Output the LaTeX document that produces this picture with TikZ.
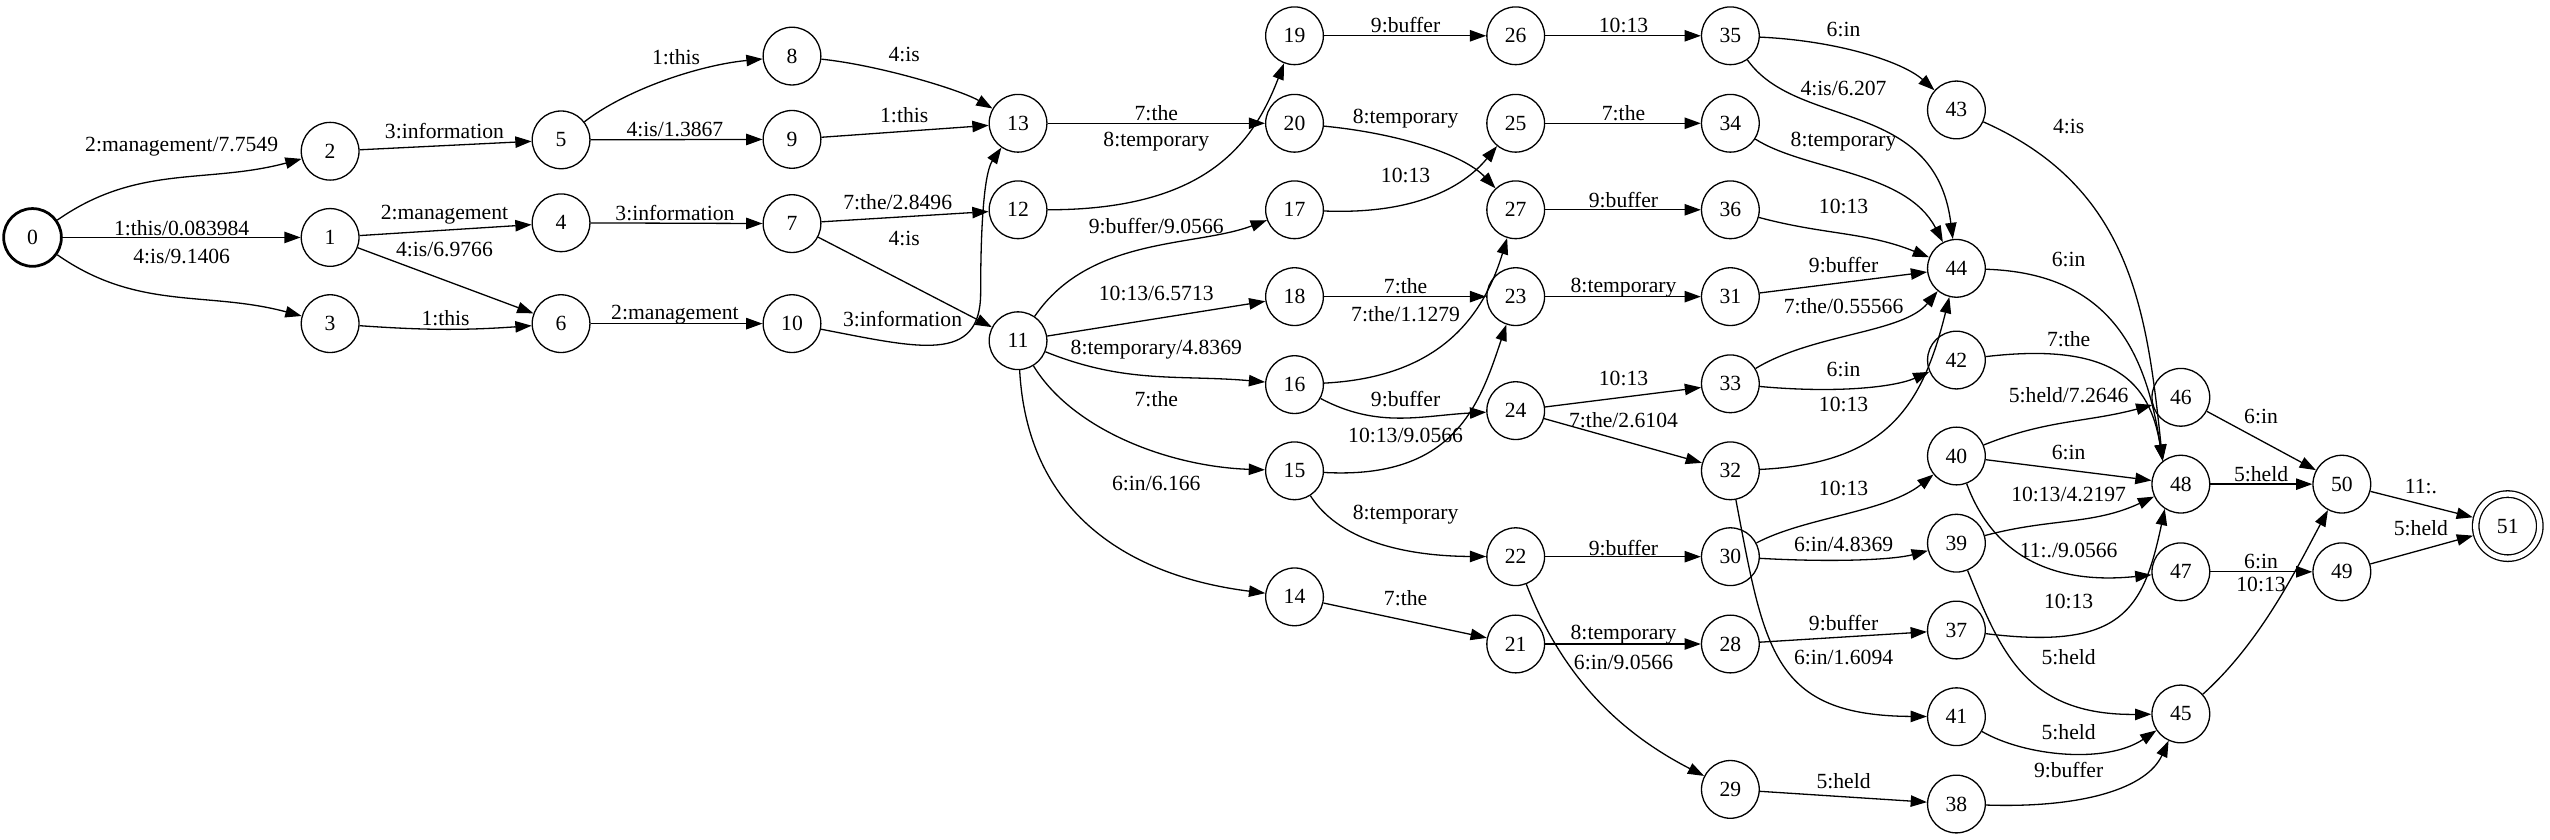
\documentclass[tikz,border=0pt]{standalone}
\usepackage{fontspec}
\setmainfont{Liberation Serif}
\usetikzlibrary{arrows.meta}
\begin{document}
\begin{tikzpicture}[x=1pt,y=1pt,
  every node/.style={font=\fontsize{13.3}{16}\selectfont},
  st/.style={circle,draw,line width=0.8pt,minimum size=35.5pt,inner sep=0pt},
  lab/.style={inner sep=0pt},
  e/.style={line width=0.8pt,-{Triangle[length=10pt,width=7pt]}}]
\useasboundingbox (0,0) rectangle (1568,-516.5);
% states
\node[st,line width=1.7pt] (n0) at (20,-146) {0};
\node[st] (n1) at (203,-146) {1};
\node[st] (n2) at (203,-93) {2};
\node[st] (n3) at (203,-199) {3};
\node[st] (n4) at (345,-137) {4};
\node[st] (n5) at (345,-86) {5};
\node[st] (n6) at (345,-199) {6};
\node[st] (n7) at (487,-137.5) {7};
\node[st] (n8) at (487,-34.5) {8};
\node[st] (n9) at (487,-85.7) {9};
\node[st] (n10) at (487,-199) {10};
\node[st] (n11) at (626,-209.5) {11};
\node[st] (n12) at (626,-129) {12};
\node[st] (n13) at (626,-75.8) {13};
\node[st] (n14) at (796,-367) {14};
\node[st] (n15) at (796,-289.5) {15};
\node[st] (n16) at (796,-236.5) {16};
\node[st] (n17) at (796,-129) {17};
\node[st] (n18) at (796,-182.4) {18};
\node[st] (n19) at (796,-22) {19};
\node[st] (n20) at (796,-75.8) {20};
\node[st] (n21) at (932,-396) {21};
\node[st] (n22) at (932,-342.3) {22};
\node[st] (n23) at (932,-182.4) {23};
\node[st] (n24) at (932,-252.5) {24};
\node[st] (n25) at (932,-75.8) {25};
\node[st] (n26) at (932,-22) {26};
\node[st] (n27) at (932,-129) {27};
\node[st] (n28) at (1064,-396) {28};
\node[st] (n29) at (1064,-485.4) {29};
\node[st] (n30) at (1064,-342.3) {30};
\node[st] (n31) at (1064,-182.4) {31};
\node[st] (n32) at (1064,-289.5) {32};
\node[st] (n33) at (1064,-236) {33};
\node[st] (n34) at (1064,-75.8) {34};
\node[st] (n35) at (1064,-22) {35};
\node[st] (n36) at (1064,-129) {36};
\node[st] (n37) at (1203,-387.4) {37};
\node[st] (n38) at (1203,-494.4) {38};
\node[st] (n39) at (1203,-334) {39};
\node[st] (n40) at (1203,-280.4) {40};
\node[st] (n41) at (1203,-440.7) {41};
\node[st] (n42) at (1203,-221.4) {42};
\node[st] (n43) at (1203,-67.6) {43};
\node[st] (n44) at (1203,-165) {44};
\node[st] (n45) at (1341,-439) {45};
\node[st] (n46) at (1341,-244.3) {46};
\node[st] (n47) at (1341,-351.6) {47};
\node[st] (n48) at (1341,-297.7) {48};
\node[st] (n49) at (1440,-351.6) {49};
\node[st] (n50) at (1440,-297.7) {50};
\node[circle,draw,line width=0.8pt,double,double distance=3.2pt,minimum size=39.4pt,inner sep=0pt,outer sep=2.4pt] (n51) at (1542,-323.5) {51};
% arcs
\draw[e] (n0) to[out=35,in=195] (n2);
\draw[e] (n0) -- (n1);
\draw[e] (n0) to[out=-35,in=165] (n3);
\draw[e] (n2) -- (n5);
\draw[e] (n1) -- (n4);
\draw[e] (n1) -- (n6);
\draw[e] (n3) to[out=-4,in=184] (n6);
\draw[e] (n5) .. controls (385,-55) and (430,-40) .. (n8);
\draw[e] (n5) -- (n9);
\draw[e] (n4) -- (n7);
\draw[e] (n6) -- (n10);
\draw[e] (n8) .. controls (540,-40) and (590,-55) .. (n13);
\draw[e] (n9) -- (n13);
\draw[e] (n7) -- (n12);
\draw[e] (n7) -- (n11);
\draw[e] (n10) .. controls (565,-214) and (603,-224) .. (603,-180) .. controls (603,-130) and (606,-105) .. (n13);
\draw[e] (n13) -- (n20);
\draw[e] (n12) .. controls (740,-129) and (770,-90) .. (n19);
\draw[e] (n11) .. controls (670,-145) and (735,-152) .. (n17);
\draw[e] (n11) -- (n18);
\draw[e] (n11) to[out=-22,in=175] (n16);
\draw[e] (n11) .. controls (660,-265) and (720,-287) .. (n15);
\draw[e] (n11) .. controls (632,-320) and (700,-355) .. (n14);
\draw[e] (n19) -- (n26);
\draw[e] (n20) .. controls (860,-82) and (900,-95) .. (n27);
\draw[e] (n17) .. controls (870,-132) and (900,-115) .. (n25);
\draw[e] (n18) -- (n23);
\draw[e] (n16) .. controls (885,-232) and (912,-195) .. (n27);
\draw[e] (n16) to[out=-28,in=183] (n24);
\draw[e] (n15) .. controls (895,-295) and (910,-248) .. (n23);
\draw[e] (n15) .. controls (825,-335) and (870,-342) .. (n22);
\draw[e] (n14) -- (n21);
\draw[e] (n26) -- (n35);
\draw[e] (n25) -- (n34);
\draw[e] (n27) -- (n36);
\draw[e] (n23) -- (n31);
\draw[e] (n24) -- (n33);
\draw[e] (n24) -- (n32);
\draw[e] (n22) -- (n30);
\draw[e] (n21) -- (n28);
\draw[e] (n22) .. controls (960,-415) and (995,-450) .. (n29);
\draw[e] (n35) .. controls (1130,-25) and (1170,-38) .. (n43);
\draw[e] (n35) .. controls (1105,-80) and (1190,-60) .. (n44);
\draw[e] (n34) .. controls (1110,-105) and (1172,-105) .. (n44);
\draw[e] (n36) to[out=-15,in=158] (n44);
\draw[e] (n31) -- (n44);
\draw[e] (n33) .. controls (1115,-205) and (1170,-205) .. (n44);
\draw[e] (n33) .. controls (1130,-242) and (1165,-238) .. (n42);
\draw[e] (n32) .. controls (1160,-285) and (1182,-250) .. (n44);
\draw[e] (n30) .. controls (1110,-318) and (1160,-315) .. (n40);
\draw[e] (n30) .. controls (1130,-346) and (1165,-344) .. (n39);
\draw[e] (n28) -- (n37);
\draw[e] (n32) .. controls (1085,-400) and (1090,-440) .. (n41);
\draw[e] (n29) -- (n38);
\draw[e] (n43) .. controls (1310,-115) and (1320,-190) .. (n48.128);
\draw[e] (n44) .. controls (1300,-168) and (1320,-220) .. (n48.128);
\draw[e] (n42) .. controls (1300,-210) and (1322,-235) .. (n48.128);
\draw[e] (n40) to[out=22,in=195] (n46);
\draw[e] (n40) -- (n48);
\draw[e] (n39) to[out=15,in=205] (n48);
\draw[e] (n40) .. controls (1225,-340) and (1260,-360) .. (n47);
\draw[e] (n37) .. controls (1305,-400) and (1318,-375) .. (n48.-123);
\draw[e] (n39) .. controls (1230,-400) and (1245,-440) .. (n45);
\draw[e] (n41) .. controls (1245,-465) and (1295,-470) .. (n45);
\draw[e] (n38) .. controls (1280,-497) and (1320,-485) .. (n45);
\draw[e] (n46) -- (n50);
\draw[e] (n48) -- (n50);
\draw[e] (n47) -- (n49);
\draw[e] (n45) .. controls (1390,-395) and (1412,-350) .. (n50);
\draw[e] (n50) -- (n51);
\draw[e] (n49) -- (n51);
% labels
\node[lab] (l0-2) at (111.7,-90.2) {2:management/7.7549};
\node[lab] (l0-1) at (111.7,-140) {1:this/0.083984};
\node[lab] (l0-3) at (111.7,-157.4) {4:is/9.1406};
\node[lab] (l2-5) at (273.3,-80.3) {3:information};
\node[lab] (l1-4) at (273.3,-131.8) {2:management};
\node[lab] (l1-6) at (273.3,-153.7) {4:is/6.9766};
\node[lab] (l3-6) at (274,-195.7) {1:this};
\node[lab] (l5-8) at (415.7,-35.3) {1:this};
\node[lab] (l5-9) at (415,-79.5) {4:is/1.3867};
\node[lab] (l4-7) at (415,-131.2) {3:information};
\node[lab] (l6-10) at (415,-193.7) {2:management};
\node[lab] (l8-13) at (556,-33.8) {4:is};
\node[lab] (l9-13) at (556,-70.7) {1:this};
\node[lab] (l7-12) at (552,-124) {7:the/2.8496};
\node[lab] (l7-11) at (556,-146.5) {4:is};
\node[lab] (l10-13) at (555,-196) {3:information};
\node[lab] (l13-20) at (711,-69.7) {7:the};
\node[lab] (l12-19) at (711,-87.1) {8:temporary};
\node[lab] (l11-17) at (711,-139) {9:buffer/9.0566};
\node[lab] (l11-18) at (711,-180.4) {10:13/6.5713};
\node[lab] (l11-16) at (711,-214.8) {8:temporary/4.8369};
\node[lab] (l11-15) at (711,-245.5) {7:the};
\node[lab] (l11-14) at (711,-297.2) {6:in/6.166};
\node[lab] (l19-26) at (864.3,-15.4) {9:buffer};
\node[lab] (l20-27) at (864.3,-72.8) {8:temporary};
\node[lab] (l17-25) at (864.3,-107.6) {10:13};
\node[lab] (l18-23) at (864.3,-175.9) {7:the};
\node[lab] (l16-27) at (864.3,-193.1) {7:the/1.1279};
\node[lab] (l16-24) at (864.3,-245.5) {9:buffer};
\node[lab] (l15-23) at (864.3,-267.5) {10:13/9.0566};
\node[lab] (l15-22) at (864.3,-316.7) {8:temporary};
\node[lab] (l14-21) at (864.3,-368) {7:the};
\node[lab] (l26-35) at (998.3,-15.4) {10:13};
\node[lab] (l25-34) at (998.3,-69.3) {7:the};
\node[lab] (l27-36) at (998.3,-123) {9:buffer};
\node[lab] (l23-31) at (998.3,-176.7) {8:temporary};
\node[lab] (l24-33) at (998.3,-232.6) {10:13};
\node[lab] (l24-32) at (998.3,-258.5) {7:the/2.6104};
\node[lab] (l22-30) at (998.3,-337.2) {9:buffer};
\node[lab] (l21-28) at (998.3,-390.5) {8:temporary};
\node[lab] (l22-29) at (998.3,-407.5) {6:in/9.0566};
\node[lab] (l35-43) at (1133.6,-18.4) {6:in};
\node[lab] (l35-44) at (1133.6,-54.3) {4:is/6.207};
\node[lab] (l34-44) at (1133.6,-87.1) {8:temporary};
\node[lab] (l36-44) at (1133.6,-127.1) {10:13};
\node[lab] (l31-44) at (1133.6,-162.9) {9:buffer};
\node[lab] (l33-44) at (1133.6,-188.2) {7:the/0.55566};
\node[lab] (l33-42) at (1133.6,-227.5) {6:in};
\node[lab] (l32-44) at (1133.6,-249) {10:13};
\node[lab] (l30-40) at (1133.6,-300.3) {10:13};
\node[lab] (l30-39) at (1133.6,-334.5) {6:in/4.8369};
\node[lab] (l28-37) at (1133.6,-382.9) {9:buffer};
\node[lab] (l32-41) at (1133.6,-404.2) {6:in/1.6094};
\node[lab] (l29-38) at (1133.6,-480.1) {5:held};
\node[lab] (l43-48) at (1272,-77.9) {4:is};
\node[lab] (l44-48) at (1272,-159.5) {6:in};
\node[lab] (l42-48) at (1272,-208.6) {7:the};
\node[lab] (l40-46) at (1272,-242.9) {5:held/7.2646};
\node[lab] (l40-48) at (1272,-278.4) {6:in};
\node[lab] (l39-48) at (1272,-303.8) {10:13/4.2197};
\node[lab] (l40-47) at (1272,-338.2) {11:./9.0566};
\node[lab] (l37-48) at (1272,-370) {10:13};
\node[lab] (l39-45) at (1272,-404.2) {5:held};
\node[lab] (l41-45) at (1272,-450) {5:held};
\node[lab] (l38-45) at (1272,-473.5) {9:buffer};
\node[lab] (l46-50) at (1390.3,-256.2) {6:in};
\node[lab] (l48-50) at (1390.3,-291.5) {5:held};
\node[lab] (l47-49) at (1390.3,-345.4) {6:in};
\node[lab] (l45-50) at (1390.3,-359.1) {10:13};
\node[lab] (l50-51) at (1488.6,-299.3) {11:.};
\node[lab] (l49-51) at (1488.6,-324.9) {5:held};
\end{tikzpicture}
\end{document}
